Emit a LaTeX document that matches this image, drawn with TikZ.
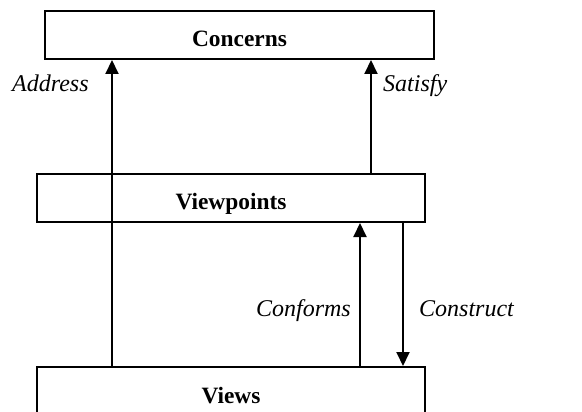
\documentclass[tikz,border=0pt]{standalone}
\usepackage{fontspec}
\setmainfont{Liberation Serif}
\usetikzlibrary{arrows.meta}
\begin{document}
\begin{tikzpicture}[x=1pt,y=-1pt,
  box/.style={draw, line width=2pt, inner sep=0pt, text height=24pt, text depth=0pt,
    font=\fontsize{23.4}{28}\selectfont\bfseries},
  lbl/.style={inner sep=0pt, font=\fontsize{24}{29}\selectfont\itshape},
  arr/.style={line width=2pt, -{Triangle[length=14pt,width=13pt]}}]
\clip (0,0) rectangle (582,412);
\node[box, minimum width=389pt, minimum height=48pt] (concerns) at (239.5,35) {Concerns};
\node[box, minimum width=388pt, minimum height=48pt] (viewpoints) at (231,198) {Viewpoints};
\node[box, minimum width=388pt, minimum height=49pt] (views) at (231,391.5) {Views};
\coordinate (ax) at (112,0);
\coordinate (sx) at (371,0);
\coordinate (cx) at (360,0);
\coordinate (kx) at (403,0);
\draw[arr] (views.north -| ax) -- (concerns.south -| ax);
\draw[arr] (viewpoints.north -| sx) -- (concerns.south -| sx);
\draw[arr] (views.north -| cx) -- (viewpoints.south -| cx);
\draw[arr] (viewpoints.south -| kx) -- (views.north -| kx);
\node[lbl, anchor=base west] (address) at (12,91.7) {Address};
\node[lbl, anchor=base west] (satisfy) at (383,91.7) {Satisfy};
\node[lbl, anchor=base east] (conforms) at (351,316) {Conforms};
\node[lbl, anchor=base west] (construct) at (419,316) {Construct};
\end{tikzpicture}
\end{document}
